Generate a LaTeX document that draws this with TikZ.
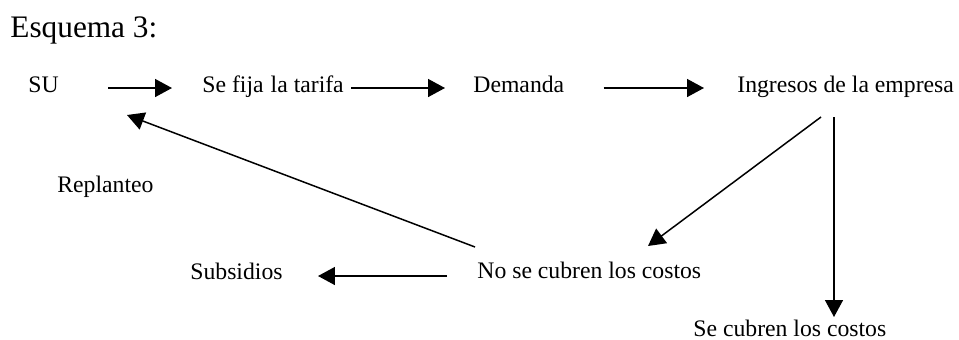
\documentclass[tikz,border=0pt]{standalone}
\usepackage{fontspec}
\setmainfont{Liberation Serif}
\usetikzlibrary{arrows.meta}

\begin{document}
\begin{tikzpicture}[x=0.5pt, y=-0.5pt,
			lbl/.style={inner sep=0pt, anchor=base west, font=\fontsize{11.85}{14}\selectfont},
			head/.style={inner sep=0pt, anchor=base west, font=\fontsize{15.65}{18}\selectfont},
			arr/.style={-{Triangle[length=8.5pt,width=9pt]}, line width=0.75pt}]
			\useasboundingbox (0,0) rectangle (959,339);
			\node[head] (titulo) at (10,37) {Esquema 3:};
			\node[lbl] (su) at (28,92) {SU};
			\node[lbl] (tarifa) at (202,92) {Se fija\hspace{0.3em}la tarifa};
			\node[lbl] (demanda) at (473,92) {Demanda};
			\node[lbl] (ingresos) at (737,92) {Ingresos de la empresa};
			\node[lbl] (replanteo) at (57,192) {Replanteo};
			\node[lbl] (subsidios) at (190,279) {Subsidios};
			\node[lbl] (nocubre) at (477,278) {No se cubren los costos};
			\node[lbl] (cubre) at (693,336) {Se cubren los costos};
			\begin{scope}[arr]
				\draw ([shift={(49,-4)}]su.base east) -- ([shift={(-30,-4)}]tarifa.base west);
				\draw ([shift={(7,-4)}]tarifa.base east) -- ([shift={(-28,-4)}]demanda.base west);
				\draw ([shift={(39,-4)}]demanda.base east) -- ([shift={(-33,-4)}]ingresos.base west);
				\draw ([shift={(84,25)}]ingresos.base west) -- ([shift={(171,-32)}]nocubre.base west);
				\draw ([shift={(97,25)}]ingresos.base west) -- ([shift={(141,-19)}]cubre.base west);
				\draw ([shift={(-30,-2)}]nocubre.base west) -- ([shift={(35,-3)}]subsidios.base east);
				\draw ([shift={(-2,-31)}]nocubre.base west) -- ([shift={(99,23)}]su.base west);
			\end{scope}
		\end{tikzpicture}
\end{document}
